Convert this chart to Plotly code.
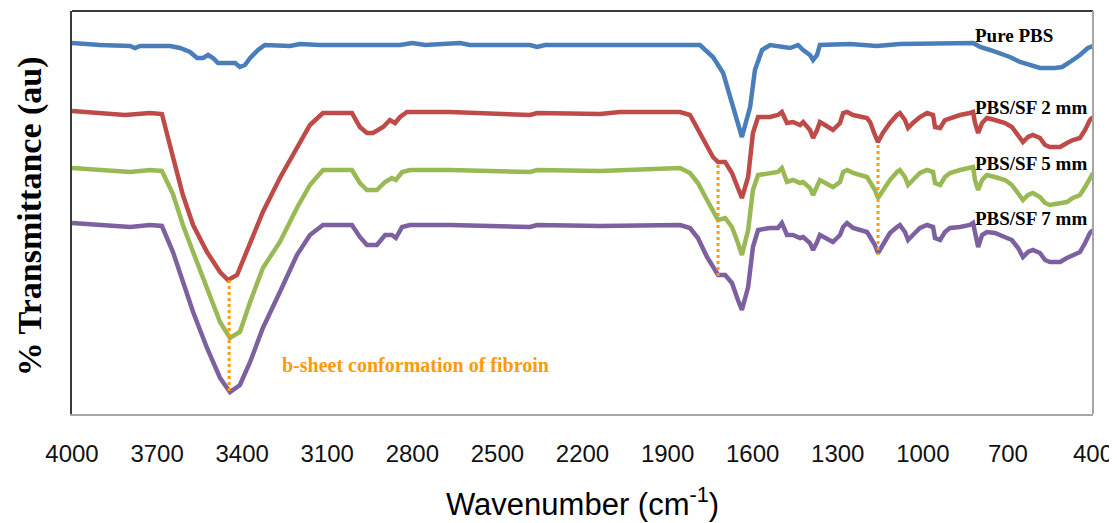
import plotly.graph_objects as go

# ---- data (wavenumber in cm-1, transmittance in arbitrary units) ----
pure_wn = [4000, 3901, 3795, 3778, 3760, 3654, 3619, 3584, 3559, 3538, 3520, 3503, 3485, 3461, 3443,
           3425, 3408, 3390, 3372, 3344, 3320, 3231, 3196, 3126, 2843, 2801, 2755, 2632, 2597, 2385,
           2360, 2332, 1786, 1740, 1704, 1680, 1655, 1638, 1609, 1592, 1567, 1539, 1468, 1440, 1422,
           1398, 1387, 1373, 1363, 1257, 1162, 1081, 823, 798, 763, 728, 693, 657, 622, 587, 534, 509,
           481, 446, 418, 400]
pure_t = [371, 369, 368, 366, 368, 368, 366, 362, 356, 356, 359, 356, 351, 351, 352,
          351, 347, 349, 356, 364, 369, 368, 370, 369, 369, 371, 369, 371, 369, 369,
          367, 369, 369, 357, 341, 317, 294, 277, 307, 344, 364, 369, 366, 369, 364,
          359, 354, 359, 369, 370, 368, 370, 371, 367, 364, 361, 357, 352, 349, 346, 346, 347,
          352, 359, 366, 368]

sf2_wn = [4000, 3901, 3813, 3725, 3683, 3644, 3609, 3573, 3524, 3478, 3450, 3418, 3372, 3327, 3267,
          3207, 3161, 3115, 3013, 2985, 2960, 2939, 2903, 2879, 2861, 2843, 2819, 2667, 2385, 2360,
          2138, 2068, 1856, 1821, 1793, 1761, 1740, 1722, 1697, 1673, 1652, 1638, 1616, 1599, 1581,
          1539, 1511, 1497, 1479, 1458, 1433, 1422, 1398, 1387, 1373, 1363, 1345, 1317, 1292, 1281,
          1267, 1246, 1197, 1186, 1169, 1158, 1141, 1116, 1091, 1081, 1063, 1052, 1035, 1010, 985,
          964, 957, 939, 922, 904, 869, 834, 823, 816, 805, 791, 774, 746, 710, 686, 664, 647, 629,
          612, 587, 569, 552, 516, 492, 471, 446, 428, 411, 400]
sf2_t = [303, 301, 299, 301, 300, 257, 219, 189, 162, 142, 134, 139, 172, 202, 236,
         266, 289, 301, 301, 287, 281, 281, 287, 294, 291, 297, 302, 302, 299, 301,
         300, 302, 302, 299, 284, 267, 257, 252, 252, 241, 224, 216, 237, 281, 297,
         297, 299, 302, 291, 292, 289, 292, 284, 276, 284, 292, 289, 284, 291, 301,
         302, 299, 296, 292, 279, 272, 281, 291, 299, 301, 294, 286, 291, 297, 301,
         299, 287, 286, 294, 296, 299, 301, 302, 291, 281, 291, 296, 294, 291, 287, 279, 272, 277,
         279, 276, 269, 267, 267, 271, 274, 276, 284, 294, 297]

sf5_wn = [4000, 3901, 3795, 3725, 3683, 3644, 3609, 3573, 3524, 3478, 3443, 3408, 3372, 3327, 3267,
          3207, 3161, 3115, 3013, 2985, 2960, 2925, 2896, 2872, 2858, 2836, 2808, 2667, 2385, 2360,
          2138, 1856, 1821, 1793, 1761, 1740, 1722, 1697, 1673, 1652, 1638, 1616, 1599, 1581, 1539,
          1511, 1497, 1479, 1458, 1433, 1422, 1398, 1387, 1373, 1363, 1317, 1292, 1281, 1267, 1246,
          1197, 1186, 1169, 1158, 1141, 1116, 1091, 1081, 1063, 1052, 1035, 1010, 985, 964, 957,
          939, 922, 904, 869, 834, 823, 816, 805, 791, 774, 746, 710, 686, 664, 647, 629, 612, 587,
          569, 552, 516, 492, 471, 446, 428, 411, 400]
sf5_t = [246, 244, 242, 244, 243, 220, 189, 162, 126, 92, 76, 82, 112, 146, 172,
         206, 229, 244, 244, 231, 224, 224, 232, 236, 234, 242, 244, 244, 242, 244,
         243, 246, 241, 231, 214, 202, 194, 196, 187, 171, 159, 184, 224, 239, 241,
         242, 246, 232, 234, 231, 232, 226, 219, 227, 234, 227, 232, 242, 244, 241,
         237, 232, 224, 216, 224, 234, 242, 244, 237, 229, 234, 241, 244, 242, 231,
         229, 237, 241, 244, 246, 247, 234, 224, 234, 239, 237, 234, 229, 221, 214, 219, 221, 217,
         211, 209, 211, 212, 216, 219, 227, 237, 241]

sf7_wn = [4000, 3901, 3795, 3725, 3683, 3644, 3609, 3573, 3524, 3478, 3443, 3408, 3372, 3327, 3267,
          3207, 3161, 3115, 3013, 2985, 2960, 2925, 2896, 2872, 2858, 2836, 2808, 2667, 2385, 2360,
          2138, 1856, 1821, 1793, 1761, 1740, 1722, 1697, 1673, 1652, 1638, 1616, 1599, 1581, 1539,
          1511, 1497, 1479, 1458, 1433, 1422, 1398, 1387, 1373, 1363, 1317, 1292, 1281, 1267, 1246,
          1197, 1186, 1169, 1158, 1141, 1116, 1091, 1081, 1063, 1052, 1035, 1010, 985, 964, 957,
          939, 922, 904, 869, 834, 823, 816, 805, 791, 774, 746, 710, 686, 664, 647, 629, 612, 587,
          569, 552, 516, 492, 471, 446, 428, 411, 400]
sf7_t = [191, 189, 187, 189, 188, 162, 132, 102, 66, 36, 22, 29, 52, 86, 122,
         159, 179, 189, 189, 177, 169, 169, 179, 179, 176, 187, 189, 189, 187, 189,
         188, 189, 186, 176, 157, 147, 139, 139, 131, 114, 104, 127, 167, 184, 186,
         186, 191, 179, 179, 176, 177, 171, 164, 172, 179, 172, 179, 187, 191, 186,
         182, 177, 169, 161, 169, 181, 187, 189, 182, 174, 179, 186, 189, 187, 176,
         174, 182, 186, 187, 189, 191, 181, 167, 179, 182, 181, 177, 174, 166, 157, 162, 164, 161,
         154, 152, 152, 156, 159, 162, 171, 181, 184]

series_names = ["Pure PBS", "PBS/SF 2 mm", "PBS/SF 5 mm", "PBS/SF 7 mm"]
series_colors = ["#4A7EBB", "#BE4B48", "#98B954", "#7D60A0"]
label_t = [379, 307, 251, 196]
label_wn = 823

# marker lines (wavenumber, from T, to T)
marker_wn = [3446, 1722, 1158]
marker_top = [134, 249, 269]
marker_bottom = [22, 137, 159]
marker_color = "#FF9A0A"

tick_vals = [4000, 3700, 3400, 3100, 2800, 2500, 2200, 1900, 1600, 1300, 1000, 700, 400]
tick_text = [str(v) for v in tick_vals]

fig = go.Figure()
for wn, t, name, col in zip([pure_wn, sf2_wn, sf5_wn, sf7_wn], [pure_t, sf2_t, sf5_t, sf7_t],
                            series_names, series_colors):
    fig.add_trace(go.Scatter(x=wn, y=t, mode="lines", name=name,
                             line=dict(color=col, width=4.5, shape="linear"), showlegend=False))

for wn, t0, t1 in zip(marker_wn, marker_top, marker_bottom):
    fig.add_trace(go.Scatter(x=[wn, wn], y=[t0, t1], mode="lines", showlegend=False,
                             line=dict(color=marker_color, width=3, dash="dot")))

serif = "Times New Roman, Liberation Serif, serif"
sans = "Arial, Liberation Sans, sans-serif"

annotations = []
for name, t in zip(series_names, label_t):
    annotations.append(dict(x=label_wn, y=t, xref="x", yref="y", text="<b>" + name + "</b>",
                            showarrow=False, xanchor="left", yanchor="middle",
                            font=dict(family=serif, size=19, color="black")))
annotations.append(dict(x=3267, y=49, xref="x", yref="y",
                        text="<b>b-sheet conformation of fibroin</b>", showarrow=False,
                        xanchor="left", yanchor="middle",
                        font=dict(family=serif, size=20, color=marker_color)))
# axis titles
annotations.append(dict(x=0.5, y=-0.219, xref="paper", yref="paper",
                        text="Wavenumber (cm<sup>-1</sup>)", showarrow=False,
                        xanchor="center", yanchor="middle",
                        font=dict(family=sans, size=31, color="black")))
annotations.append(dict(x=-0.041, y=0.491, xref="paper", yref="paper", textangle=-90,
                        text="<b>% Transmittance (au)</b>", showarrow=False,
                        xanchor="center", yanchor="middle",
                        font=dict(family=serif, size=34, color="black")))

# the page body adds an 8px offset, so the figure is 8px smaller than the window
fig.update_layout(
    width=1109, height=515,
    margin=dict(l=64, r=24, t=3, b=109, autoexpand=False),
    paper_bgcolor="white", plot_bgcolor="white",
    showlegend=False,
    annotations=annotations,
    xaxis=dict(range=[4000, 400], tickmode="array", tickvals=tick_vals, ticktext=tick_text,
               automargin=False,
               showgrid=False, zeroline=False, showline=True, linecolor="#A6A6A6", linewidth=2,
               ticks="outside", ticklen=17, tickcolor="rgba(0,0,0,0)",
               tickfont=dict(family=sans, size=24, color="#111111")),
    yaxis=dict(range=[0, 403], showticklabels=False, ticks="", showgrid=False, zeroline=False,
               automargin=False,
               showline=True, linecolor="#3A3A3A", linewidth=2),
    shapes=[
        dict(type="line", xref="paper", yref="paper", x0=0, x1=1, y0=1, y1=1,
             line=dict(color="#3A3A3A", width=2)),
        dict(type="line", xref="paper", yref="paper", x0=1, x1=1, y0=0, y1=1,
             line=dict(color="#A6A6A6", width=2)),
    ],
)

fig.write_html("out.html")
